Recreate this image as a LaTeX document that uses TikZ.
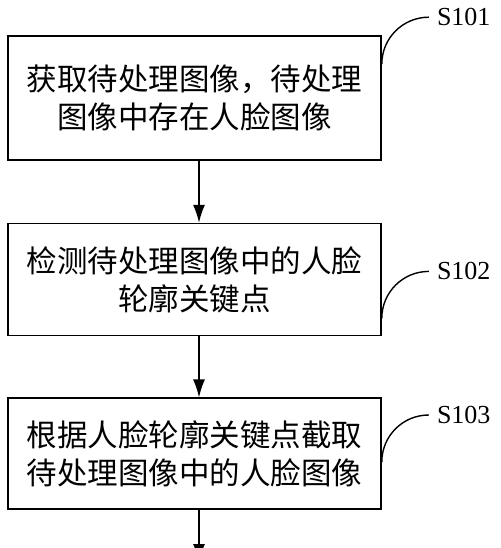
\documentclass[tikz,border=0pt]{standalone}
\usepackage{fontspec}
\setmainfont{Liberation Serif}
\newfontfamily\cjk{Noto Sans CJK SC}
\usepackage{tikz}
\usetikzlibrary{arrows.meta,positioning,calc}

\tikzset{
  stepbox/.style={draw, line width=1.6pt, minimum width=373pt, align=center,
    inner sep=0pt, font=\cjk\fontsize{30.5pt}{38pt}\selectfont},
  flow/.style={line width=1.4pt, -{Latex[length=18pt,width=12pt]}},
  tag/.style={font=\fontsize{26pt}{28pt}\selectfont, anchor=west,
    inner xsep=8pt, inner ysep=2pt},
  tagline/.style={line width=1.4pt}
}

\begin{document}
\begin{tikzpicture}
  \useasboundingbox (0,0) rectangle (500pt,-548pt);

  % the three steps
  \node[stepbox, minimum height=124pt] (b1) at (194.5pt,-98pt)
    {获取待处理图像，待处理\\图像中存在人脸图像};
  \node[stepbox, minimum height=112pt, below=62pt of b1] (b2)
    {检测待处理图像中的人脸\\轮廓关键点};
  \node[stepbox, minimum height=111pt, below=61pt of b2] (b3)
    {根据人脸轮廓关键点截取\\待处理图像中的人脸图像};
  \coordinate (end) at ([xshift=4.5pt]b3.south |- 0,-562pt);

  % arrows
  \draw[flow] ([xshift=4.5pt]b1.south) -- ([xshift=4.5pt]b2.north);
  \draw[flow] ([xshift=4.5pt]b2.south) -- ([xshift=4.5pt]b3.north);
  \draw[flow] ([xshift=4.5pt]b3.south) -- (end);

  % step labels
  \coordinate (c1) at ([yshift=-29pt]b1.north east);
  \coordinate (c2) at ([yshift=18pt]b2.south east);
  \coordinate (c3) at ([yshift=48pt]b3.south east);
  \node[tag] (s1) at ([shift={(47pt,47pt)}]c1) {S101};
  \node[tag] (s2) at ([shift={(47pt,47pt)}]c2) {S102};
  \node[tag] (s3) at ([shift={(47pt,47pt)}]c3) {S103};
  \draw[tagline] (c1) to[out=90,in=180] (s1.west);
  \draw[tagline] (c2) to[out=90,in=180] (s2.west);
  \draw[tagline] (c3) to[out=90,in=180] (s3.west);
\end{tikzpicture}
\end{document}
